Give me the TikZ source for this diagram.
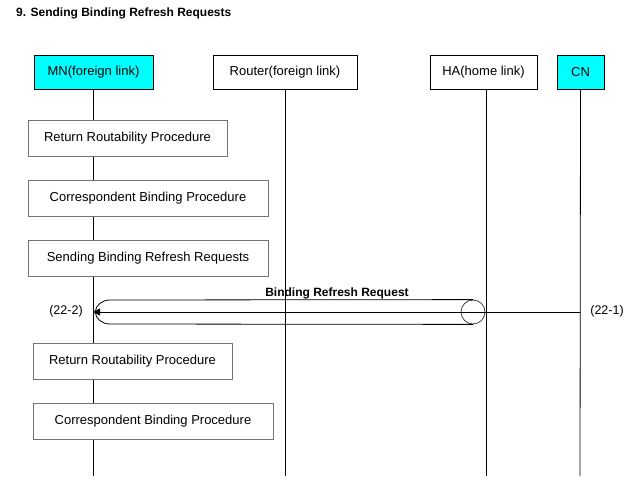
\documentclass[tikz,border=0pt]{standalone}
\usepackage{fontspec}
\setmainfont{Liberation Sans}
\usetikzlibrary{arrows.meta}
\definecolor{hdrcyan}{RGB}{0,255,255}
\begin{document}
\begin{tikzpicture}[x=1pt,y=-1pt,
  hdr/.style={draw=black,line width=0.8pt,minimum height=34pt,inner sep=0pt,font=\fontsize{13}{15}\selectfont},
  proc/.style={draw=black!55,line width=0.8pt,minimum height=36pt,inner sep=0pt,font=\fontsize{13}{15}\selectfont},
  life/.style={line width=0.8pt},
  msg/.style={line width=0.8pt},
  lbl/.style={font=\fontsize{12.5}{14}\selectfont,inner sep=0pt}]
\useasboundingbox[fill=white] (0,0) rectangle (636,495);
\node[anchor=west,inner sep=0pt,font=\bfseries\fontsize{12}{14}\selectfont] (title) at (16,13) {9. Sending Binding Refresh Requests};
% headers
\node[hdr,fill=hdrcyan,minimum width=119pt] (mn) at (93.5,72.5) {MN(foreign link)};
\node[hdr,fill=white,minimum width=144pt] (rt) at (285,72.5) {Router(foreign link)};
\node[hdr,fill=white,minimum width=107pt] (ha) at (483.5,72.5) {HA(home link)};
\node[hdr,fill=hdrcyan,minimum width=47pt] (cn) at (580.5,72.5) {CN};
% lifeline ends
\coordinate (mnE) at (93,476);
\coordinate (rtE) at (285,476);
\coordinate (haE) at (486,476);
\coordinate (cnE) at (580,476);
\draw[life] (93,89) -- (mnE);
\draw[life] (rt.south) -- (rtE);
\draw[life] (486,89) -- (haE);
\draw[life] (cn.south) -- (cnE);
% procedures
\node[proc,fill=white,minimum width=199pt] (p1) at (127.5,138) {Return Routability Procedure};
\node[proc,fill=white,minimum width=240pt] (p2) at (148,198) {Correspondent Binding Procedure};
\node[proc,fill=white,minimum width=240pt] (p3) at (148,258) {Sending Binding Refresh Requests};
\node[proc,fill=white,minimum width=199pt] (p4) at (132.5,361) {Return Routability Procedure};
\node[proc,fill=white,minimum width=240pt] (p5) at (153,421) {Correspondent Binding Procedure};
% message
\coordinate (mn22) at (93,312);
\coordinate (cn22) at (580,312);
\node[draw=black!75,line width=0.8pt,circle,minimum size=24pt,inner sep=0pt] (tun) at (473,312) {};
\draw[msg] (tun.north) -- (110,300) .. controls (102,300) and (96,305) .. (95,312)
  .. controls (96,319) and (102,324) .. (110,324) -- (tun.south);
\draw[msg,-{Triangle[length=7pt,width=7pt]}] (cn22) -- (mn22);
\node[lbl,font=\bfseries\fontsize{12}{14}\selectfont] (brr) at (337,293) {Binding Refresh Request};
\node[lbl] (l222) at (66,311) {(22-2)};
\node[lbl] (l221) at (607,311) {(22-1)};
\end{tikzpicture}
\end{document}
